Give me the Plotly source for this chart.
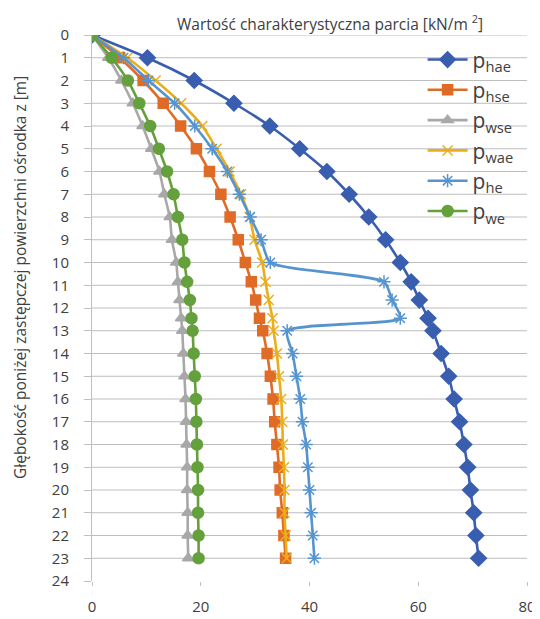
import plotly.graph_objects as go

# Depth below the equivalent surface z [m]
depth = [0, 1, 2, 3, 4, 5, 6, 7, 8, 9, 10, 10.85, 11.65, 12.45, 13,
         14, 15, 16, 17, 18, 19, 20, 21, 22, 23]

p_hae = [0, 10.2, 18.8, 26.1, 32.7, 38.2, 43.2, 47.3, 50.9, 54.0, 56.7, 58.7, 60.2,
         61.8, 62.7, 64.2, 65.6, 66.6, 67.6, 68.4, 69.1, 69.6, 70.2, 70.6, 71.1]
p_hse = [0, 5.1, 9.4, 13.1, 16.3, 19.2, 21.6, 23.7, 25.4, 26.9, 28.2, 29.3, 30.1,
         30.8, 31.4, 32.2, 32.8, 33.3, 33.6, 34.0, 34.4, 34.6, 35.0, 35.3, 35.6]
p_wse = [0, 3.0, 5.4, 7.5, 9.3, 10.9, 12.4, 13.3, 14.3, 14.7, 15.5, 15.8, 16.1,
         16.4, 16.6, 16.8, 17.0, 17.2, 17.3, 17.4, 17.5, 17.5, 17.6, 17.6, 17.7]
p_wae = [0, 6.5, 11.7, 16.4, 20.3, 22.9, 25.3, 27.4, 29.0, 29.9, 31.3, 31.9, 32.5,
         33.2, 33.4, 34.0, 34.4, 34.8, 35.0, 35.1, 35.3, 35.4, 35.4, 35.6, 35.8]
p_he = [0, 5.8, 10.4, 15.2, 18.9, 22.1, 24.9, 27.1, 29.1, 31.1, 32.8, 53.7, 55.2,
        56.7, 35.9, 36.9, 37.6, 38.3, 38.7, 39.4, 39.7, 40.0, 40.3, 40.6, 40.9]
p_we = [0, 3.6, 6.6, 8.7, 10.7, 12.3, 13.8, 15.0, 15.8, 16.6, 17.0, 17.5, 18.0,
        18.3, 18.5, 18.7, 18.9, 19.1, 19.2, 19.3, 19.4, 19.5, 19.5, 19.6, 19.6]

x_ticks = [0, 20, 40, 60, 80]
y_ticks = list(range(0, 25))

series = [
    ("p<sub>hae</sub>", p_hae, "#3A5EAF", "diamond", 12),
    ("p<sub>hse</sub>", p_hse, "#E06B27", "square", 10),
    ("p<sub>wse</sub>", p_wse, "#A8A8A8", "triangle-up", 10),
    ("p<sub>wae</sub>", p_wae, "#EBAE1A", "x-thin-open", 10),
    ("p<sub>he</sub>", p_he, "#5694CF", "asterisk-open", 11),
    ("p<sub>we</sub>", p_we, "#64A03C", "circle", 11),
]

FONT = "Open Sans"
TXT = "#404040"

# The page adds an 8px body margin, so the figure is 8px smaller than the window.
W, H = 532, 611
L, T, PW, PH = 84, 27, 435, 546

fig = go.Figure()
for name, vals, color, sym, size in series:
    fig.add_trace(go.Scatter(
        x=vals, y=depth, name=name, mode="lines+markers",
        line=dict(color=color, width=2.6, shape="spline", smoothing=0.6),
        marker=dict(symbol=sym, size=size, color=color,
                    line=dict(color=color, width=1.5)),
    ))

shapes = [dict(type="line", xref="paper", x0=0, x1=1, yref="y", y0=d, y1=d,
               line=dict(color="#bdbdbd", width=1.2), layer="below")
          for d in y_ticks[:-1]]

fig.update_layout(
    width=W, height=H,
    margin=dict(l=L, r=W - L - PW, t=T, b=H - T - PH, autoexpand=False),
    paper_bgcolor="white", plot_bgcolor="white",
    font=dict(family=FONT, color=TXT),
    shapes=shapes,
    showlegend=True,
    legend=dict(x=0.76, y=0.992, xanchor="left", yanchor="top",
                bgcolor="rgba(0,0,0,0)", borderwidth=0,
                font=dict(size=21, color=TXT, family=FONT),
                tracegroupgap=0, itemwidth=40),
    xaxis=dict(range=[0, 80], tickvals=x_ticks, showgrid=False, zeroline=False,
               showline=False, ticks="outside", ticklen=4, tickcolor="#bfbfbf",
               automargin=False, ticklabelstandoff=8,
               tickfont=dict(size=15, color=TXT, family=FONT)),
    yaxis=dict(range=[24, 0], tickvals=y_ticks, showgrid=False, zeroline=False,
               showline=True, linecolor="#bfbfbf", linewidth=1,
               ticks="outside", ticklen=7, tickcolor="#bfbfbf",
               automargin=False, ticklabelstandoff=12,
               tickfont=dict(size=15, color=TXT, family=FONT)),
    annotations=[
        dict(text="Wartość charakterystyczna parcia [kN/m <sup>2</sup>]",
             xref="paper", yref="paper", x=(322 - L) / PW, y=1 + (T - 15) / PH,
             xanchor="center", yanchor="middle", showarrow=False,
             font=dict(size=15.5, color=TXT, family=FONT)),
        dict(text="Głębokość poniżej zastępczej powierzchni ośrodka z [m]",
             xref="paper", yref="paper", x=(12 - L) / PW, y=1 - (270 - T) / PH,
             xanchor="center", yanchor="middle", textangle=-90, showarrow=False,
             font=dict(size=15.5, color=TXT, family=FONT)),
    ],
)

fig.write_html("out.html")
